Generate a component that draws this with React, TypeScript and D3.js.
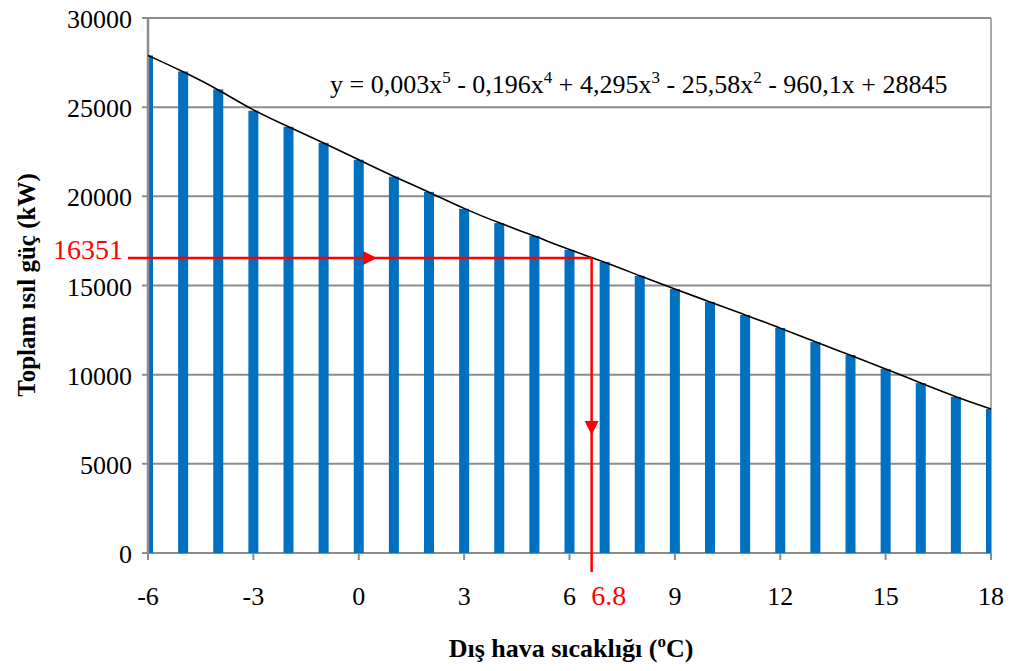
import * as d3 from "d3";
import { useEffect, useRef } from "react";

// temperature (°C) for each bar
const temps = [-6, -5, -4, -3, -2, -1, 0, 1, 2, 3, 4, 5, 6, 7, 8, 9, 10, 11, 12, 13, 14, 15, 16, 17, 18];
// total heat load (kW)
const loads = [
  27900, 27000, 26000, 24800, 23900, 23000, 22050, 21100, 20250, 19300, 18500, 17780, 17000,
  16320, 15540, 14800, 14080, 13350, 12620, 11830, 11100, 10320, 9530, 8750, 8080,
];
// trendline label (Excel polynomial, 5th order)
const equationParts: [string, string | null][] = [
  ["y = 0,003x", "5"], [" - 0,196x", "4"], [" + 4,295x", "3"],
  [" - 25,58x", "2"], [" - 960,1x + 28845", null],
];
const xTicks = [-6, -3, 0, 3, 6, 9, 12, 15, 18];
const yTicks = [0, 5000, 10000, 15000, 20000, 25000, 30000];
const readLoad = 16351;
const readLoadPos = 16540;
const readTempPos = 6.63;
const readTempLabel = "6.8";

export default function App() {
  const svgRef = useRef<SVGSVGElement>(null);
  const width = 1013;
  const height = 671;
  const marginLeft = 148;
  const marginRight = 22;
  const marginTop = 18;
  const marginBottom = 118;

  useEffect(() => {
    const svg = d3.select(svgRef.current);
    svg.selectAll("*").remove();

    const x = d3.scaleLinear().domain([-6, 18]).range([marginLeft, width - marginRight]);
    const y = d3.scaleLinear().domain([0, 30000]).range([height - marginBottom, marginTop]);
    const font = "Liberation Serif";
    const grid = "#8c8c8c";

    svg.append("defs").append("clipPath").attr("id", "plot")
      .append("rect")
      .attr("x", x(-6)).attr("y", y(30000))
      .attr("width", x(18) - x(-6)).attr("height", y(0) - y(30000));

    // gridlines + y ticks
    svg.append("g").selectAll("line").data(yTicks).join("line")
      .attr("x1", x(-6) - 6).attr("x2", x(18))
      .attr("y1", d => y(d)).attr("y2", d => y(d))
      .attr("stroke", grid).attr("stroke-width", 2);

    // right border
    svg.append("line")
      .attr("x1", x(18)).attr("x2", x(18)).attr("y1", y(30000)).attr("y2", y(0))
      .attr("stroke", grid).attr("stroke-width", 1.5);

    // bars
    svg.append("g").attr("clip-path", "url(#plot)")
      .selectAll("rect").data(temps).join("rect")
      .attr("x", d => x(d) - 5)
      .attr("width", 10)
      .attr("y", (d, i) => y(loads[i]))
      .attr("height", (d, i) => y(0) - y(loads[i]))
      .attr("fill", "#0070c0");

    // left axis + x ticks
    svg.append("line")
      .attr("x1", x(-6)).attr("x2", x(-6)).attr("y1", y(30000)).attr("y2", y(0))
      .attr("stroke", grid).attr("stroke-width", 2.5);
    svg.append("g").selectAll("line").data(xTicks).join("line")
      .attr("x1", d => x(d)).attr("x2", d => x(d))
      .attr("y1", y(0)).attr("y2", y(0) + 7)
      .attr("stroke", grid).attr("stroke-width", 2);

    // trendline through bar tops
    svg.append("path")
      .datum(temps)
      .attr("d", d3.line<number>().x(d => x(d)).y((d, i) => y(loads[i])).curve(d3.curveBasis))
      .attr("fill", "none").attr("stroke", "#000").attr("stroke-width", 1.6);

    // tick labels
    svg.append("g").selectAll("text").data(yTicks).join("text")
      .attr("x", x(-6) - 16).attr("y", d => y(d) + 10)
      .attr("text-anchor", "end")
      .attr("font-family", font).attr("font-size", 26)
      .text(d => d);
    svg.append("g").selectAll("text").data(xTicks).join("text")
      .attr("x", d => x(d)).attr("y", y(0) + 52)
      .attr("text-anchor", "middle")
      .attr("font-family", font).attr("font-size", 26)
      .text(d => d);

    // axis titles
    svg.append("text")
      .attr("transform", `translate(35, 285) rotate(-90)`)
      .attr("text-anchor", "middle")
      .attr("font-family", font).attr("font-size", 25).attr("font-weight", "bold")
      .text("Toplam ısıl güç (kW)");
    const xt = svg.append("text")
      .attr("x", 571).attr("y", 657)
      .attr("text-anchor", "middle")
      .attr("font-family", font).attr("font-size", 26).attr("font-weight", "bold");
    xt.append("tspan").text("Dış hava sıcaklığı (");
    xt.append("tspan").attr("font-size", 17).attr("dy", -10).text("o");
    xt.append("tspan").attr("dy", 10).text("C)");

    // equation
    const eq = svg.append("text")
      .attr("x", 330).attr("y", 93)
      .attr("font-family", font).attr("font-size", 26);
    let lift = 0;
    equationParts.forEach(([base, sup]) => {
      eq.append("tspan").attr("dy", lift).text(base);
      lift = 0;
      if (sup) {
        eq.append("tspan").attr("font-size", 17).attr("dy", -10).text(sup);
        lift = 10;
      }
    });

    // red reading lines
    const red = "#ff0000";
    const hy = y(readLoadPos);
    const vx = x(readTempPos);
    svg.append("line")
      .attr("x1", 128).attr("x2", vx).attr("y1", hy).attr("y2", hy)
      .attr("stroke", red).attr("stroke-width", 2.5);
    svg.append("line")
      .attr("x1", vx).attr("x2", vx).attr("y1", hy).attr("y2", y(0) + 19)
      .attr("stroke", red).attr("stroke-width", 2.5);
    const ax = 377;
    svg.append("path")
      .attr("d", `M${ax},${hy} L${ax - 14},${hy - 7} L${ax - 14},${hy + 7} Z`)
      .attr("fill", red);
    const ay = 435;
    svg.append("path")
      .attr("d", `M${vx},${ay} L${vx - 7},${ay - 14} L${vx + 7},${ay - 14} Z`)
      .attr("fill", red);
    svg.append("text")
      .attr("x", 123).attr("y", hy + 1)
      .attr("text-anchor", "end")
      .attr("font-family", font).attr("font-size", 28).attr("fill", red)
      .text(readLoad);
    svg.append("text")
      .attr("x", vx + 17).attr("y", y(0) + 52)
      .attr("text-anchor", "middle")
      .attr("font-family", font).attr("font-size", 28).attr("fill", red)
      .text(readTempLabel);
  }, []);

  return (
    <svg
      ref={svgRef}
      width={width}
      height={height}
      style={{ position: "absolute", left: 0, top: 0, background: "#fff" }}
    />
  );
}
